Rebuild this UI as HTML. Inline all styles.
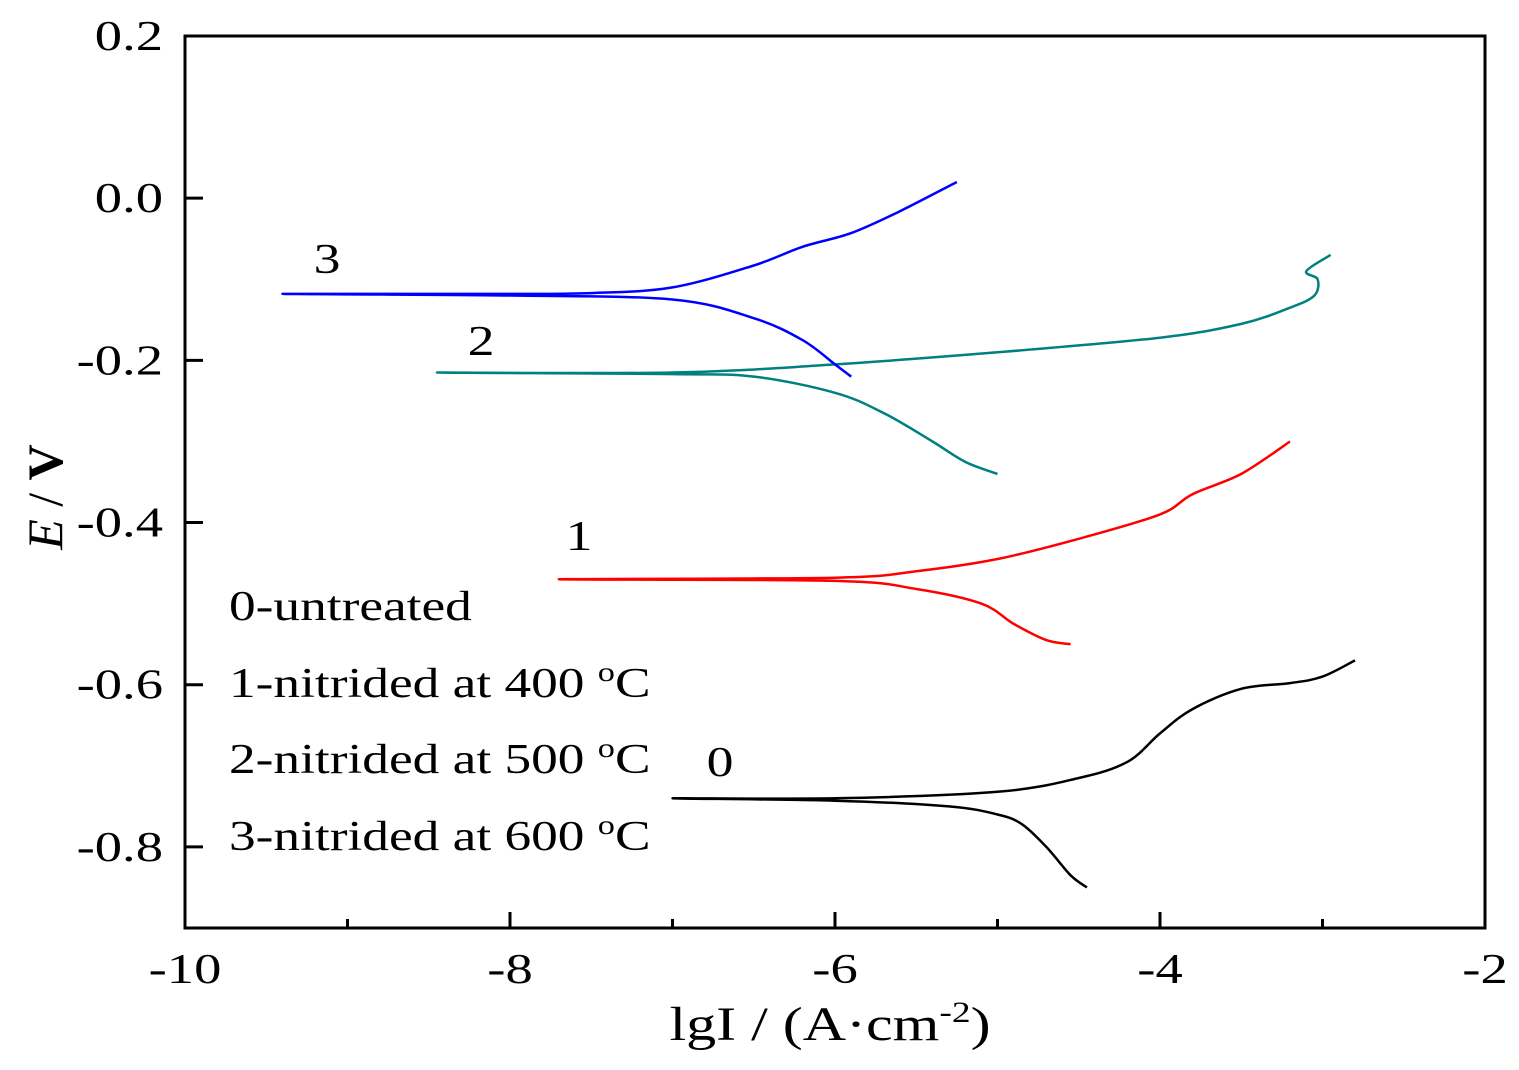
<!DOCTYPE html>
<html><head><meta charset="utf-8"><style>
body{margin:0;background:#fff}
svg{display:block;font-family:"Liberation Serif",serif}
</style></head><body>
<svg id="chart" width="1519" height="1070" viewBox="0 0 1519 1070" xmlns="http://www.w3.org/2000/svg">
<g id="curves"></g>
<g id="axes"></g>
<g font-size="42">
<text transform="translate(327,273) scale(1.28,1)" text-anchor="middle">3</text>
<text transform="translate(481,355) scale(1.28,1)" text-anchor="middle">2</text>
<text transform="translate(579,550) scale(1.28,1)" text-anchor="middle">1</text>
<text transform="translate(720,776) scale(1.28,1)" text-anchor="middle">0</text>
</g>
<g font-size="42">
<text transform="translate(229,620) scale(1.27,1)">0-untreated</text>
<text transform="translate(229,697) scale(1.27,1)">1-nitrided at 400 <tspan dy="-16" font-size="27">o</tspan><tspan dy="16">C</tspan></text>
<text transform="translate(229,773) scale(1.27,1)">2-nitrided at 500 <tspan dy="-16" font-size="27">o</tspan><tspan dy="16">C</tspan></text>
<text transform="translate(229,850) scale(1.27,1)">3-nitrided at 600 <tspan dy="-16" font-size="27">o</tspan><tspan dy="16">C</tspan></text>
</g>
<text transform="translate(830,1040) scale(1.25,1)" font-size="48" text-anchor="middle">lgI / (A·cm<tspan dy="-18" font-size="30">-2</tspan><tspan dy="18">)</tspan></text>
<text transform="translate(62,497) rotate(-90)" font-size="50" text-anchor="middle"><tspan font-style="italic">E</tspan> / <tspan font-weight="bold">V</tspan></text>
</svg>
<script>
const xTicks=[-10,-8,-6,-4,-2];
const yTicks=[0.2,0.0,-0.2,-0.4,-0.6,-0.8];
const yTickLabels=["0.2","0.0","-0.2","-0.4","-0.6","-0.8"];
const c0x=[-4.45,-4.55,-4.7,-4.85,-5.0,-5.3,-6,-7,-6,-5,-4.5,-4.2,-4.0,-3.8,-3.5,-3.2,-3.0,-2.8];
const c0y=[-0.85,-0.835,-0.8,-0.772,-0.76,-0.75,-0.743,-0.74,-0.74,-0.732,-0.715,-0.695,-0.66,-0.63,-0.605,-0.598,-0.59,-0.57];
const c1x=[-4.55,-4.7,-4.9,-5.1,-5.5,-6,-7.7,-6,-5.5,-5,-4.5,-4,-3.8,-3.5,-3.2];
const c1y=[-0.55,-0.545,-0.525,-0.5,-0.482,-0.472,-0.47,-0.468,-0.46,-0.445,-0.42,-0.39,-0.365,-0.34,-0.30];
const c2x=[-5.0,-5.2,-5.4,-5.7,-6,-6.5,-7,-8.45,-7,-6,-5,-4,-3.5,-3.2,-3.05,-3.03,-3.1,-2.95];
const c2y=[-0.34,-0.325,-0.3,-0.265,-0.24,-0.22,-0.217,-0.215,-0.215,-0.205,-0.19,-0.172,-0.155,-0.135,-0.12,-0.1,-0.09,-0.07];
const c3x=[-5.9,-6,-6.2,-6.5,-7,-8,-9.4,-8,-7.5,-7,-6.5,-6.2,-5.9,-5.6,-5.25];
const c3y=[-0.22,-0.205,-0.175,-0.148,-0.125,-0.12,-0.118,-0.118,-0.117,-0.11,-0.083,-0.06,-0.043,-0.016,0.02];
const X0=185,X1=1485,Y0=928,Y1=36;
const sx=v=>X0+(v+10)/8*(X1-X0);
const sy=v=>Y0-(v+0.9)/1.1*(Y0-Y1);
const NS="http://www.w3.org/2000/svg";
const curves=document.getElementById('curves');
function draw(xs,ys,color,name){
  const pts=xs.map((x,i)=>[sx(x),sy(ys[i])]);
  let d='M'+pts[0][0].toFixed(1)+' '+pts[0][1].toFixed(1);
  for(let i=0;i<pts.length-1;i++){
    const p0=pts[Math.max(i-1,0)],p1=pts[i],p2=pts[i+1],p3=pts[Math.min(i+2,pts.length-1)];
    const c1=[p1[0]+(p2[0]-p0[0])/6,p1[1]+(p2[1]-p0[1])/6];
    const c2=[p2[0]-(p3[0]-p1[0])/6,p2[1]-(p3[1]-p1[1])/6];
    d+='C'+c1.map(v=>v.toFixed(1)).join(' ')+' '+c2.map(v=>v.toFixed(1)).join(' ')+' '+p2.map(v=>v.toFixed(1)).join(' ');
  }
  const p=document.createElementNS(NS,'path');
  p.setAttribute('d',d);
  p.setAttribute('fill','none');p.setAttribute('stroke',color);p.setAttribute('stroke-width','2.5');
  p.setAttribute('stroke-linejoin','round');
  
  
  curves.appendChild(p);
}
draw(c0x,c0y,'#000','curve-0-untreated');
draw(c1x,c1y,'#f00','curve-1-400c');
draw(c2x,c2y,'#008080','curve-2-500c');
draw(c3x,c3y,'#0000ff','curve-3-600c');
const axes=document.getElementById('axes');
function el(tag,attrs,name,text){
  const e=document.createElementNS(NS,tag);
  for(const k in attrs)e.setAttribute(k,attrs[k]);
  
  
  if(text!==undefined)e.textContent=text;
  axes.appendChild(e);return e;
}
el('rect',{x:X0,y:Y1,width:X1-X0,height:Y0-Y1,fill:'none',stroke:'#000','stroke-width':3},'plot-frame');
xTicks.forEach(t=>{
  el('line',{x1:sx(t),x2:sx(t),y1:Y0,y2:Y0-16,stroke:'#000','stroke-width':3},'x-tick');
  el('text',{transform:'translate('+sx(t)+','+(Y0+55)+') scale(1.3,1)','font-size':42,'text-anchor':'middle'},'x-tick-label',String(t));
});
for(let t=-9;t<-2;t+=2){
  el('line',{x1:sx(t),x2:sx(t),y1:Y0,y2:Y0-9,stroke:'#000','stroke-width':3},'x-minor-tick');
}
yTicks.forEach((t,i)=>{
  el('line',{x1:X0,x2:X0+18,y1:sy(t),y2:sy(t),stroke:'#000','stroke-width':3},'y-tick');
  el('text',{transform:'translate('+(X0-22)+','+(sy(t)+14)+') scale(1.3,1)','font-size':42,'text-anchor':'end'},'y-tick-label',yTickLabels[i]);
});
</script>
</body></html>
